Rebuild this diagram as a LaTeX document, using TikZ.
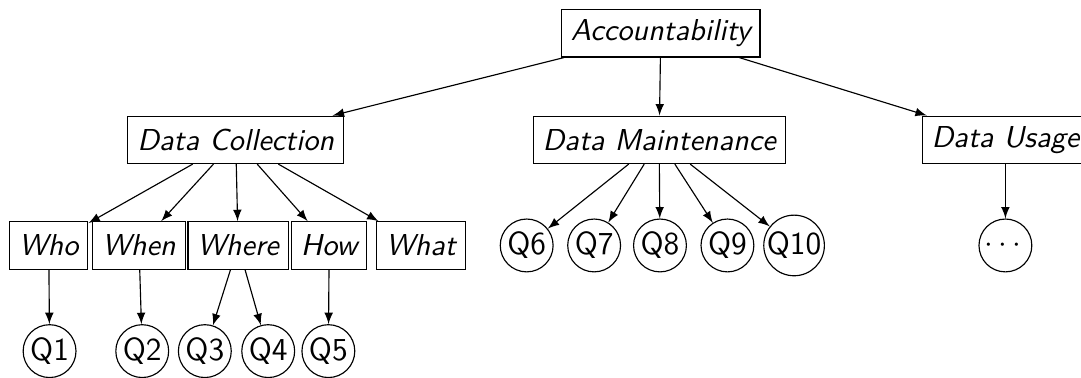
\documentclass[tikz,border=0pt]{standalone}
\usepackage{amsmath}
\usepackage{tikz}

\begin{document}
\begin{tikzpicture}[
	box/.style={shape=rectangle,draw=black,font=\fontsize{10.6}{12}\sffamily\itshape,inner xsep=3.3pt,inner ysep=2pt,minimum height=16.6pt},
	qnode/.style={shape=circle,draw=black,font=\fontsize{11.2}{13}\sffamily,inner sep=0pt,minimum size=18.5pt}]
	
	\useasboundingbox (0,0) rectangle (13.30,-4.65);
	
	\node[box] (acc) at (8.13, -0.41)     {Accountability};
	\node[box] (coll) at (2.90, -1.72)     {Data Collection};
	\node[box] (main) at (8.11, -1.72)     {Data Maintenance};
	\node[box] (usage) at (12.37, -1.72)     {Data Usage};
	\node[box] (who) at (0.60, -3.02)     {Who};
	\node[box] (when) at (1.71, -3.02)     {When};
	\node[box] (where) at (2.93, -3.02)     {Where};
	\node[box] (how) at (4.05, -3.02)     {How};
	\node[box] (what) at (5.18, -3.02)     {What};
	\node[qnode] (q1) at (0.61, -4.32)     {Q1};
	\node[qnode] (q2) at (1.75, -4.32)     {Q2};
	\node[qnode] (q3) at (2.52, -4.32)     {Q3};
	\node[qnode] (q4) at (3.30, -4.32)     {Q4};
	\node[qnode] (q5) at (4.04, -4.32)     {Q5};
	\node[qnode] (q6) at (6.48, -3.02)     {Q6};
	\node[qnode] (q7) at (7.31, -3.02)     {Q7};
	\node[qnode] (q8) at (8.12, -3.02)     {Q8};
	\node[qnode] (q9) at (8.95, -3.02)     {Q9};
	\node[qnode] (q10) at (9.77, -3.02)     {Q10};
	\node[qnode] (more) at (12.37, -3.02)     {$\cdots$};
	
	\path[-latex] (acc) edge (coll);
	\path[-latex] (acc) edge (main);
	\path[-latex] (acc) edge (usage);
	\path[-latex] (coll) edge (who);
	\path[-latex] (coll) edge (when);
	\path[-latex] (coll) edge (where);
	\path[-latex] (coll) edge (how);
	\path[-latex] (coll) edge (what);
	\path[-latex] (main) edge (q6);
	\path[-latex] (main) edge (q7);
	\path[-latex] (main) edge (q8);
	\path[-latex] (main) edge (q9);
	\path[-latex] (main) edge (q10);
	\path[-latex] (usage) edge (more);
	\path[-latex] (who) edge (q1);
	\path[-latex] (when) edge (q2);
	\path[-latex] (where) edge (q3);
	\path[-latex] (where) edge (q4);
	\path[-latex] (how) edge (q5);
	
\end{tikzpicture}
\end{document}
